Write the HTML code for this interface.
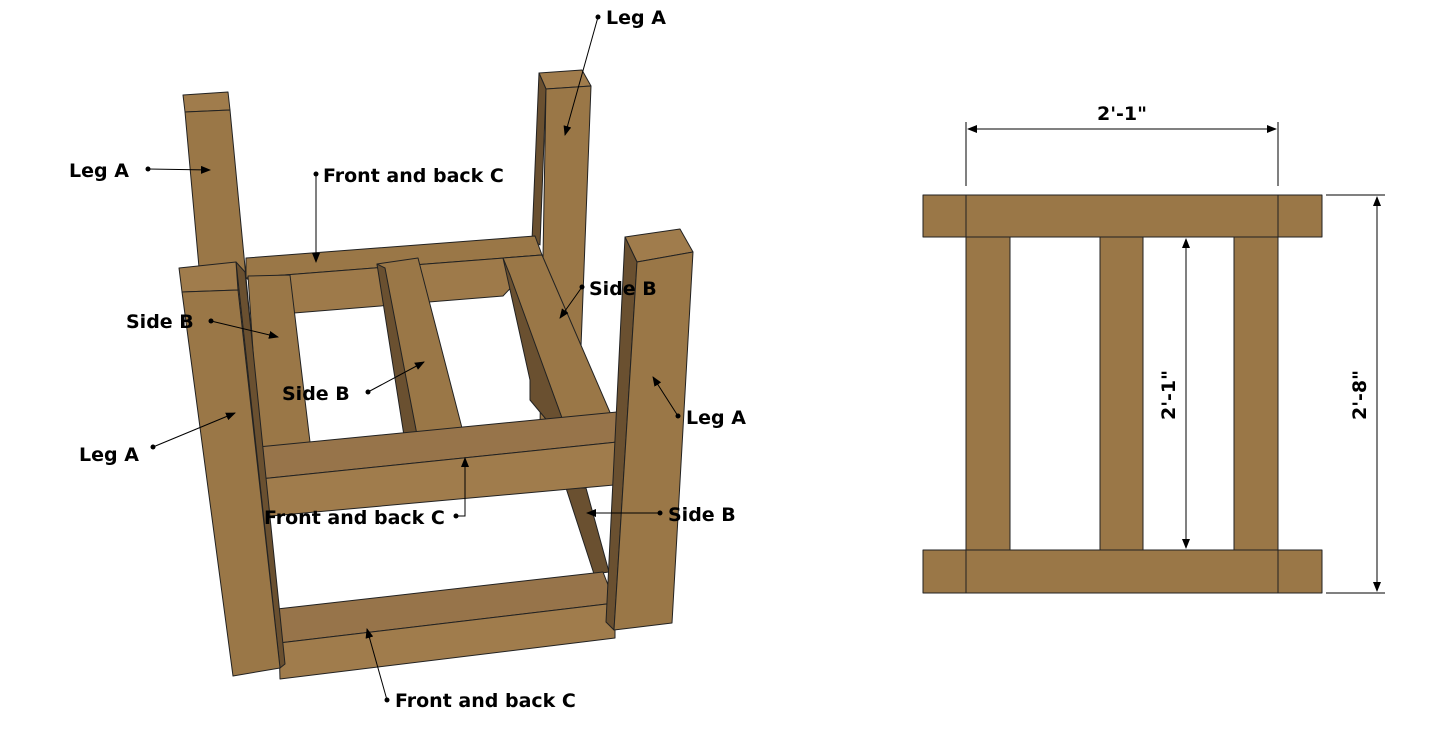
<!DOCTYPE html>
<html><head><meta charset="utf-8"><style>
html,body{margin:0;padding:0;background:#fff;}
svg{display:block}
text{font-family:"DejaVu Sans","Liberation Sans",sans-serif;font-weight:bold;font-size:19px;fill:#000}
</style></head><body>
<svg width="1445" height="752" viewBox="0 0 1445 752" xmlns="http://www.w3.org/2000/svg">
<defs>
<marker id="a" markerWidth="10" markerHeight="8" refX="9" refY="4" orient="auto" markerUnits="userSpaceOnUse"><path d="M0,0 L10,4 L0,8 z" fill="#000"/></marker>
<marker id="b" markerWidth="10" markerHeight="8" refX="1" refY="4" orient="auto" markerUnits="userSpaceOnUse"><path d="M10,0 L0,4 L10,8 z" fill="#000"/></marker>
</defs>
<g stroke="#222" stroke-width="1" stroke-linejoin="round">
<polygon points="183,95 228,92 230,110 185,112" fill="#a07c4c"/>
<polygon points="185,112 230,110 262,445 215,445" fill="#9a7747"/>
<polygon points="539,73 582,70 591,86 546,89" fill="#a07c4c"/>
<polygon points="539,73 546,89 540,245 532,240" fill="#6a5030"/>
<polygon points="546,89 591,86 578,425 540,425" fill="#9a7747"/>
<polygon points="246,258 535,236 542,255 246,278" fill="#9a7747"/>
<polygon points="246,278 542,255 503,296 294,313" fill="#9e7a4a"/>
<polygon points="503,258 542,255 615,424 566,429" fill="#9a7747"/>
<polygon points="503,258 510,275 566,429 555,430 530,400 530,380" fill="#6a5030"/>
<polygon points="248,276 290,275 310,442 260,455" fill="#9a7747"/>
<polygon points="377,264 418,258 462,428 412,440" fill="#9a7747"/>
<polygon points="377,264 385,268 418,440 405,442" fill="#6a5030"/>
<polygon points="566,488 586,488 609,572 594,574" fill="#6a5030"/>
<polygon points="258,447 617,412 627,441 260,479" fill="#97744a"/>
<polygon points="260,479 627,441 625,484 260,517" fill="#a07c4c"/>
<polygon points="277,609 603,572 615,603 279,643" fill="#97744a"/>
<polygon points="279,643 615,603 615,638 280,679" fill="#a07c4c"/>
<polygon points="625,237 680,229 693,252 637,262" fill="#a07c4c"/>
<polygon points="625,237 637,262 614,630 606,622" fill="#6a5030"/>
<polygon points="637,262 693,252 672,623 614,630" fill="#9a7747"/>
<polygon points="236,262 245,272 285,664 280,668" fill="#6a5030"/>
<polygon points="179,268 236,262 238,290 182,292" fill="#a07c4c"/>
<polygon points="182,292 238,290 280,668 233,676" fill="#9a7747"/>
<rect x="923" y="195" width="399" height="42" fill="#9a7747"/>
<line x1="966" y1="195" x2="966" y2="237"/><line x1="1278" y1="195" x2="1278" y2="237"/>
<rect x="923" y="550" width="399" height="43" fill="#9a7747"/>
<line x1="966" y1="550" x2="966" y2="593"/><line x1="1278" y1="550" x2="1278" y2="593"/>
<rect x="966" y="237" width="44" height="313" fill="#9a7747"/>
<rect x="1100" y="237" width="43" height="313" fill="#9a7747"/>
<rect x="1234" y="237" width="44" height="313" fill="#9a7747"/>
</g>
<g stroke="#000" stroke-width="1" fill="none">
<line x1="966" y1="122" x2="966" y2="186"/><line x1="1278" y1="122" x2="1278" y2="186"/>
<line x1="968" y1="129" x2="1276" y2="129" marker-end="url(#a)" marker-start="url(#b)"/>
<line x1="1326" y1="195" x2="1385" y2="195"/><line x1="1326" y1="593" x2="1385" y2="593"/>
<line x1="1377" y1="197" x2="1377" y2="591" marker-end="url(#a)" marker-start="url(#b)"/>
<line x1="1186" y1="239" x2="1186" y2="548" marker-end="url(#a)" marker-start="url(#b)"/>
<line x1="598" y1="17" x2="565" y2="135" marker-end="url(#a)"/>
<line x1="148" y1="169" x2="210" y2="170" marker-end="url(#a)"/>
<line x1="316" y1="174" x2="316" y2="262" marker-end="url(#a)"/>
<line x1="211" y1="321" x2="278" y2="337" marker-end="url(#a)"/>
<line x1="582" y1="287" x2="560" y2="318" marker-end="url(#a)"/>
<line x1="368" y1="392" x2="424" y2="362" marker-end="url(#a)"/>
<line x1="153" y1="447" x2="235" y2="413" marker-end="url(#a)"/>
<line x1="678" y1="416" x2="653" y2="377" marker-end="url(#a)"/>
<polyline points="456,516 465,516 465,458" marker-end="url(#a)"/>
<line x1="660" y1="513" x2="587" y2="513" marker-end="url(#a)"/>
<line x1="387" y1="700" x2="367" y2="629" marker-end="url(#a)"/>
</g>
<g fill="#000">
<circle cx="598" cy="17" r="2.5"/><circle cx="148" cy="169" r="2.5"/><circle cx="316" cy="174" r="2.5"/>
<circle cx="211" cy="321" r="2.5"/><circle cx="582" cy="287" r="2.5"/><circle cx="368" cy="392" r="2.5"/>
<circle cx="153" cy="447" r="2.5"/><circle cx="678" cy="416" r="2.5"/><circle cx="456" cy="516" r="2.5"/>
<circle cx="660" cy="513" r="2.5"/><circle cx="387" cy="700" r="2.5"/>
</g>
<text x="606" y="24">Leg A</text>
<text x="69" y="177">Leg A</text>
<text x="323" y="182">Front and back C</text>
<text x="126" y="328">Side B</text>
<text x="589" y="295">Side B</text>
<text x="282" y="400">Side B</text>
<text x="79" y="461">Leg A</text>
<text x="686" y="424">Leg A</text>
<text x="264" y="524">Front and back C</text>
<text x="668" y="521">Side B</text>
<text x="395" y="707">Front and back C</text>
<text x="1122" y="120" text-anchor="middle">2'-1"</text>
<text transform="translate(1175,395) rotate(-90)" text-anchor="middle">2'-1"</text>
<text transform="translate(1366,395) rotate(-90)" text-anchor="middle">2'-8"</text>
</svg>
</body></html>
